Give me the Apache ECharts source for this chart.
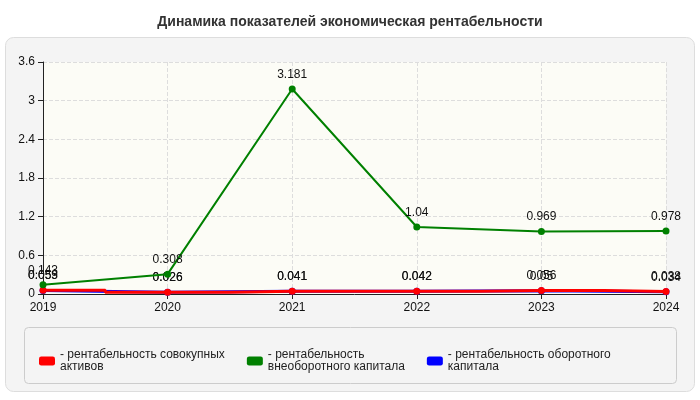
<!DOCTYPE html><html><head><meta charset="utf-8"><script src="https://cdn.jsdelivr.net/npm/echarts@6/dist/echarts.min.js"></script></head><body style="margin:0;background:#fff"><div id="c" style="width:700px;height:400px"></div><script>
var years=['2019','2020','2021','2022','2023','2024'];
var assets=[0.059,0.026,0.041,0.042,0.056,0.038];
var fixedCap=[0.143,0.308,3.181,1.04,0.969,0.978];
var workCap=[0.053,0.026,0.041,0.042,0.05,0.034];
var names=['- рентабельность совокупных\nактивов','- рентабельность\nвнеоборотного капитала','- рентабельность оборотного\nкапитала'];
var ch=echarts.init(document.getElementById('c'));
function s(n,d,c,extra){return Object.assign({name:n,type:'line',data:d,symbol:'circle',symbolSize:7,lineStyle:{color:c,width:2},itemStyle:{color:c},
label:{show:true,position:'top',color:'#111',fontSize:12,fontFamily:'Arial'}},extra||{});}
ch.setOption({
title:{text:'Динамика показателей экономическая рентабельности',left:'center',top:10,textStyle:{fontSize:14,fontWeight:'bold',color:'#333',fontFamily:'Arial'}},
graphic:[{type:'rect',left:5,top:37,shape:{width:689,height:354,r:8},style:{fill:'#f4f4f4',stroke:'#ddd'},z:-10},
{type:'rect',left:24,top:327,shape:{width:652,height:56,r:4},style:{fill:'#f4f4f4',stroke:'#ccc'},z:-5}],
grid:{left:43,right:34,top:62,bottom:106,backgroundColor:'#fcfcf6',show:true,borderWidth:0},
xAxis:{type:'category',data:years,boundaryGap:false,axisLine:{lineStyle:{color:'#222'}},axisTick:{show:true,lineStyle:{color:'#222'}},
axisLabel:{color:'#111',fontSize:12,fontFamily:'Arial'},splitLine:{show:true,lineStyle:{type:'dashed',color:'#ddd'}}},
yAxis:{type:'value',min:0,max:3.6,interval:0.6,axisLine:{show:true,lineStyle:{color:'#222'}},axisTick:{show:true},
axisLabel:{color:'#111',fontSize:12,fontFamily:'Arial'},splitLine:{lineStyle:{type:'dashed',color:'#ddd'}}},
legend:{bottom:22,left:34,itemGap:22,itemWidth:16,itemHeight:9,icon:'roundRect',textStyle:{fontSize:12,color:'#222',fontFamily:'Arial',width:180},
data:names},
series:[s(names[0],assets,'#ff0000',{step:'middle',z:4,lineStyle:{color:'#ff0000',width:3}}),s(names[1],fixedCap,'#008000',{z:5}),s(names[2],workCap,'#0000ff',{z:3,lineStyle:{color:'#0000ff',width:3}})]
});
</script></body></html>
